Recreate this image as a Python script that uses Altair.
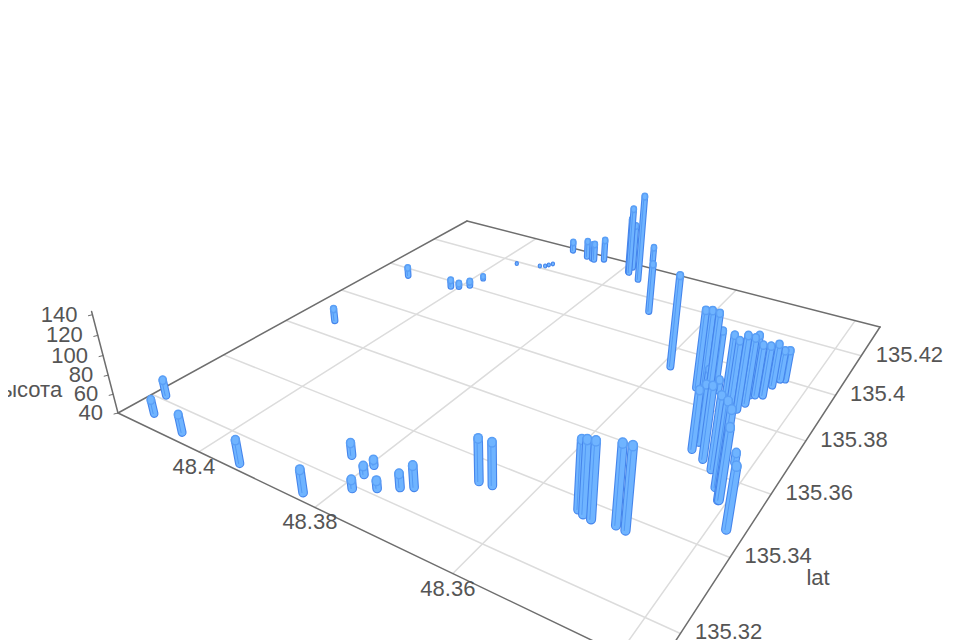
import altair as alt, numpy as np, pandas as pd

lat_values = [48.4142,48.4119,48.4052,48.3938,48.3831,48.4096,48.4102,48.4014,48.4002,48.3989,48.3985,48.3969,48.3929,48.3921,48.3918,48.3914,48.3832,48.3787,48.3793,48.3795,48.3762,48.3740,48.3726,48.3667,48.3649,48.3540,48.3531,48.3519,48.3490,48.3477,48.3914,48.3879,48.3867,48.3862,48.3847,48.3787,48.3784,48.3788,48.3758,48.3771,48.3690,48.3587,48.3532,48.3527,48.3516,48.3477,48.3476,48.3457,48.3440,48.3422,48.3410,48.3409,48.3382,48.3421,48.3514,48.3524,48.3522,48.3503,48.3485,48.3473,48.3468,48.3463,48.3459,48.3461,48.3455,48.3446,48.3444,48.3440,48.3434]
lon_values = [135.3203,135.3142,135.3128,135.3119,135.3121,135.3666,135.3973,135.3983,135.3994,135.4016,135.4070,135.4201,135.4223,135.4231,135.4243,135.4255,135.3260,135.3181,135.3226,135.3259,135.3207,135.3233,135.3248,135.3330,135.3334,135.3362,135.3355,135.3351,135.3361,135.3358,135.4369,135.4354,135.4350,135.4347,135.4363,135.4329,135.4324,135.4360,135.4298,135.4433,135.4144,135.3923,135.3871,135.3891,135.3888,135.3650,135.3680,135.3631,135.3609,135.3561,135.3528,135.3529,135.3459,135.3656,135.3915,135.3941,135.3896,135.3886,135.3857,135.3836,135.3851,135.3837,135.3869,135.3906,135.3912,135.3921,135.3972,135.4006,135.4013]
height_values = [57,55,59,64,63,54,50,48,44,45,43,41,41,41,41,41,53,49,49,46,48,54,62,83,83,107,111,114,117,119,51,60,58,60,65,105,119,93,141,57,96,138,122,119,119,100,99,113,113,123,126,110,100,50,96,76,57,52,109,110,106,117,109,104,94,93,85,72,72]

lat_ticks = [48.4, 48.38, 48.36, 48.34]
lat_labels = ["48.4", "48.38", "48.36"]
lon_ticks = [135.32, 135.34, 135.36, 135.38, 135.4, 135.42]
lon_labels = ["135.32", "135.34", "135.36", "135.38", "135.4", "135.42"]
height_ticks = [40, 60, 80, 100, 120, 140]

# camera: floor corners and the vanishing point of the vertical direction
corners = [(118,413),(656,671),(467,221),(880,327)]
A=[];b=[]
for (s,t),(x,y) in zip([(0,0),(1,0),(0,1),(1,1)],corners):
    A.append([s,t,1,0,0,0,-s*x,-t*x]);b.append(x)
    A.append([0,0,0,s,t,1,-s*y,-t*y]);b.append(y)
a=np.linalg.solve(np.array(A,float),np.array(b,float))
m=-0.062; VX,VY=505,1900

def sval(lat): return .2015+(48.4-lat)*12.5
def tval(lon): return .077+(lon-135.32)*7.8
def ttick(lon): return .0686+(lon-135.32)*8.0
def proj(s,t,h=40):
    z=(h-40)/100
    w=a[6]*s+a[7]*t+1+m*z
    return ((a[0]*s+a[1]*t+a[2]+m*VX*z)/w,(a[3]*s+a[4]*t+a[5]+m*VY*z)/w,w)

GRID="#dcdcdc"; AXIS="#6e6e6e"; EDGE="#4585ec"; FACE="#6fb4ff"; INNER="#4f96f4"; RING="#5a9ff6"
seg=[]
def line(p,q,color,w):
    seg.append(dict(x=p[0],y=p[1],x2=q[0],y2=q[1],c=color,w=w))
for lon in lon_ticks:
    line(proj(0,ttick(lon)),proj(1,ttick(lon)),GRID,1.5)
for lat in lat_ticks:
    line(proj(sval(lat),0),proj(sval(lat),1),GRID,1.5)
for p,q in [((0,0),(1,0)),((0,0),(0,1)),((0,1),(1,1)),((1,0),(1,1))]:
    line(proj(*p),proj(*q),AXIS,1.5)
base=proj(0,0,40); line(base,proj(0,0,143),AXIS,1.5)
for h in height_ticks:
    p=proj(0,0,h); line(p,(p[0]-4,p[1]+1),AXIS,1)
grid_df=pd.DataFrame(seg)

rows=[]
for la,lo,h in zip(lat_values,lon_values,height_values):
    s,t=sval(la),tval(lo)
    p=proj(s,t,40); q=proj(s,t,h); wd=min(8.6/p[2],p[1]-q[1]+3.5)
    rows.append(dict(p=p,q=q,wd=wd,W=p[2]))
rows.sort(key=lambda r:-r['W'])
bar=[]
for r in rows:
    p,q,wd=r['p'],r['q'],r['wd']
    bar.append(dict(x=p[0],y=p[1],x2=q[0],y2=q[1],c=EDGE,w=wd))
    bar.append(dict(x=p[0],y=p[1],x2=q[0],y2=q[1],c=FACE,w=max(wd-2.2,.5)))
    if wd>4.5:
        bar.append(dict(x=p[0]-wd*.12,y=p[1],x2=q[0]-wd*.12,y2=q[1],c=INNER,w=.9))
        bar.append(dict(x=q[0],y=q[1]-.5,x2=q[0],y2=q[1]+1,c=RING,w=wd))
        bar.append(dict(x=q[0],y=q[1]-.5,x2=q[0],y2=q[1]+1,c=FACE,w=wd-3))
bar_df=pd.DataFrame(bar)

txt=[]
for v,l in zip(lat_ticks,lat_labels):
    p=proj(sval(v),0); txt.append(dict(x=p[0]-5,y=p[1]+15,t=l,al="center"))
for v,l in zip(lon_ticks,lon_labels):
    p=proj(1,ttick(v)); txt.append(dict(x=p[0]+14.5,y=p[1]-1,t=l,al="left"))
for h in height_ticks:
    p=proj(0,0,h); txt.append(dict(x=p[0]-15,y=p[1],t=str(h),al="right"))
p=proj(1,tval(135.335)); txt.append(dict(x=p[0]+98,y=578,t="lat",al="center"))
p=proj(0,0,60); txt.append(dict(x=p[0]-51,y=390,t="высота",al="right"))
txt_df=pd.DataFrame(txt)

X=alt.Scale(domain=[8,952],nice=False,zero=False)
Y=alt.Scale(domain=[640,8],nice=False,zero=False)
def rules(df):
    return alt.Chart(df).mark_rule(strokeCap="round").encode(
        x=alt.X("x:Q",scale=X,axis=None),y=alt.Y("y:Q",scale=Y,axis=None),
        x2="x2:Q",y2="y2:Q",
        color=alt.Color("c:N",scale=None),
        strokeWidth=alt.StrokeWidth("w:Q",scale=None))
def texts(al):
    return alt.Chart(txt_df[txt_df.al==al]).mark_text(font="Liberation Sans",fontSize=22,align=al,baseline="middle",color="#555555").encode(
        x=alt.X("x:Q",scale=X,axis=None),y=alt.Y("y:Q",scale=Y,axis=None),text="t:N")
chart=alt.layer(rules(grid_df),rules(bar_df),texts("left"),texts("center"),texts("right")).properties(
    width=944,height=632,padding=0,autosize=alt.AutoSizeParams(type="none"),
    background="white").configure_view(stroke=None)
chart.save("out.html", embed_options={"renderer": "svg", "actions": False})
